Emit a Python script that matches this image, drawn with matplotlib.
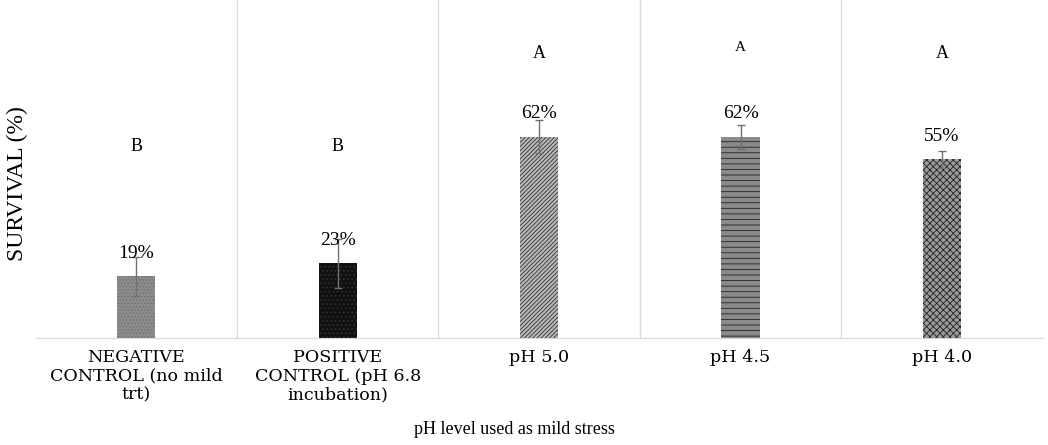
import matplotlib.pyplot as plt
import numpy as np

plt.rcParams['font.family'] = ['Liberation Serif', 'DejaVu Serif']
plt.rcParams['hatch.linewidth'] = 0.6

# Data
categories = ["NEGATIVE\nCONTROL (no mild\ntrt)", "POSITIVE\nCONTROL (pH 6.8\nincubation)",
              "pH 5.0", "pH 4.5", "pH 4.0"]
survival = [19, 23, 62, 62, 55]
errors = [6, 7.5, 5, 3.7, 2.6]
letters = ["B", "B", "A", "A", "A"]
letter_y = [59, 59, 87.7, 89.3, 87.4]

faces = ['#8c8c8c', '#111111', '#b8b8b8', '#8a8a8a', '#9a9a9a']
hatches = ['.....', '....', '////////', '---', 'xxxxx']
hatch_cols = ['#6e6e6e', '#333333', '#333333', '#222222', '#222222']

fig = plt.figure(figsize=(10.48, 4.45), dpi=100)
ax = fig.add_axes([0.034, 0.240, 0.961, 0.76])

x = np.arange(len(categories))
for i in range(len(categories)):
    ax.bar(x[i], survival[i], width=0.19, color=faces[i], hatch=hatches[i],
           edgecolor=hatch_cols[i], linewidth=0, zorder=2)
    ax.errorbar(x[i], survival[i], yerr=errors[i], fmt='none', ecolor='#707070',
                elinewidth=1, capsize=3, capthick=1, zorder=3)
    ax.text(x[i], survival[i] + 5.6, f"{survival[i]}%", ha='center', va='baseline',
            fontsize=14, zorder=4)
    ax.text(x[i], letter_y[i], letters[i], ha='center', va='center',
            fontsize=11 if i == 3 else 13)

# category separators
for b in x[:-1] + 0.5:
    ax.axvline(b, color='#d9d9d9', linewidth=1, zorder=1)

ax.set_xlim(-0.5, len(categories) - 0.5)
ax.set_ylim(0, 104)
ax.set_yticks([])
ax.set_xticks(x)
ax.set_xticklabels(categories, fontsize=12.6, family='DejaVu Serif', linespacing=1.12)
ax.tick_params(axis='x', length=0, pad=8)
for s in ['top', 'right', 'left']:
    ax.spines[s].set_visible(False)
ax.spines['bottom'].set_color('#d9d9d9')

ax.set_ylabel("SURVIVAL (%)", fontsize=17)
ax.yaxis.set_label_coords(-0.008, 0.456)
ax.set_xlabel("pH level used as mild stress", fontsize=13)
ax.xaxis.set_label_coords(0.475, -0.245)

plt.savefig("out.png", dpi=100)
